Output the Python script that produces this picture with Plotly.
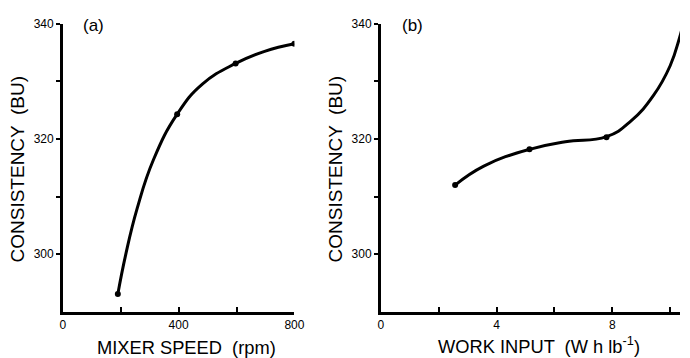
import plotly.graph_objects as go

# Panel (a): consistency vs mixer speed (measured points)
speed_rpm = [190, 395, 597, 800]
consistency_a = [293.1, 324.3, 333.1, 336.5]
# smooth curve
speed_curve = [190, 217, 257, 313, 395, 482, 597, 697, 800]
consistency_a_curve = [293.1, 299.9, 308.0, 316.4, 324.3, 329.5, 333.1, 335.2, 336.5]

# Panel (b): consistency vs work input (measured points)
work_input = [2.57, 5.14, 7.80]
consistency_b = [312.0, 318.2, 320.3]
# smooth curve (runs off the right edge)
work_curve = [2.57, 3.56, 5.14, 6.38, 7.80, 8.64, 9.43, 10.0, 10.32, 10.45]
consistency_b_curve = [312.0, 315.3, 318.2, 319.5, 320.4, 323.1, 327.6, 332.7, 337.5, 340.0]

W, H = 690, 358
def px(x):
    return x / W
def py(y):
    return 1 - y / H

FONT = "Liberation Sans, Arial, Helvetica, sans-serif"

fig = go.Figure()

fig.add_trace(go.Scatter(x=speed_curve, y=consistency_a_curve, mode="lines",
                         line=dict(color="black", width=3, shape="spline", smoothing=1.3),
                         xaxis="x", yaxis="y", showlegend=False))
fig.add_trace(go.Scatter(x=speed_rpm, y=consistency_a, mode="markers",
                         marker=dict(color="black", size=6),
                         xaxis="x", yaxis="y", showlegend=False))
fig.add_trace(go.Scatter(x=work_curve, y=consistency_b_curve, mode="lines",
                         line=dict(color="black", width=3, shape="spline", smoothing=1.3),
                         xaxis="x2", yaxis="y2", showlegend=False))
fig.add_trace(go.Scatter(x=work_input, y=consistency_b, mode="markers",
                         marker=dict(color="black", size=6),
                         xaxis="x2", yaxis="y2", showlegend=False))

ax_common = dict(showgrid=False, zeroline=False, showline=True, linecolor="black",
                 linewidth=2.5, tickfont=dict(family=FONT, size=12, color="black"))

fig.update_layout(
    width=W, height=H, margin=dict(l=0, r=0, t=0, b=0),
    paper_bgcolor="white", plot_bgcolor="white",
    xaxis=dict(domain=[px(61), px(297)], range=[0, 800], anchor="y",
               tickvals=[0, 400, 800], ticks="inside", ticklen=5, tickwidth=1.5, tickcolor="black",
               minor=dict(tickvals=[200, 600], ticks="inside", ticklen=5, tickwidth=1.5, tickcolor="black"),
               **ax_common),
    yaxis=dict(domain=[py(311), py(17)], range=[290, 340], anchor="x",
               tickvals=[300, 320, 340], ticks="outside", ticklen=4, tickwidth=1.5, tickcolor="black",
               minor=dict(tickvals=[310, 330], ticks="outside", ticklen=4, tickwidth=1.5, tickcolor="black"),
               **ax_common),
    xaxis2=dict(domain=[px(385), 1.0], range=[0, 10.34], anchor="y2",
                tickvals=[0, 4, 8], ticks="inside", ticklen=5, tickwidth=1.5, tickcolor="black",
                minor=dict(tickvals=[2, 6, 10], ticks="inside", ticklen=5, tickwidth=1.5, tickcolor="black"),
                **ax_common),
    yaxis2=dict(domain=[py(311), py(17)], range=[290, 340], anchor="x2",
                tickvals=[300, 320, 340], ticks="outside", ticklen=4, tickwidth=1.5, tickcolor="black",
                minor=dict(tickvals=[310, 330], ticks="outside", ticklen=4, tickwidth=1.5, tickcolor="black"),
                **ax_common),
)

xtitle_font = dict(family=FONT, size=18.3, color="black")
ytitle_font = dict(family=FONT, size=19, color="black")
annotations = [
    dict(text="MIXER SPEED  (rpm)", x=px(187), y=py(347), xref="paper", yref="paper",
         showarrow=False, font=xtitle_font, xanchor="center", yanchor="middle"),
    dict(text="WORK INPUT  (W h lb<sup>-1</sup>)", x=px(546), y=py(345), xref="paper", yref="paper",
         showarrow=False, font=xtitle_font, xanchor="center", yanchor="middle"),
    dict(text="CONSISTENCY  (BU)", x=px(15), y=py(165), xref="paper", yref="paper",
         showarrow=False, font=ytitle_font, textangle=-90, xanchor="center", yanchor="middle"),
    dict(text="CONSISTENCY  (BU)", x=px(339), y=py(165), xref="paper", yref="paper",
         showarrow=False, font=ytitle_font, textangle=-90, xanchor="center", yanchor="middle"),
    dict(text="(a)", x=px(92), y=py(19), xref="paper", yref="paper",
         showarrow=False, font=dict(family=FONT, size=17, color="black"), xanchor="center", yanchor="middle"),
    dict(text="(b)", x=px(417), y=py(19), xref="paper", yref="paper",
         showarrow=False, font=dict(family=FONT, size=17, color="black"), xanchor="center", yanchor="middle"),
]
fig.update_layout(annotations=annotations)

fig.write_html("out.html")
